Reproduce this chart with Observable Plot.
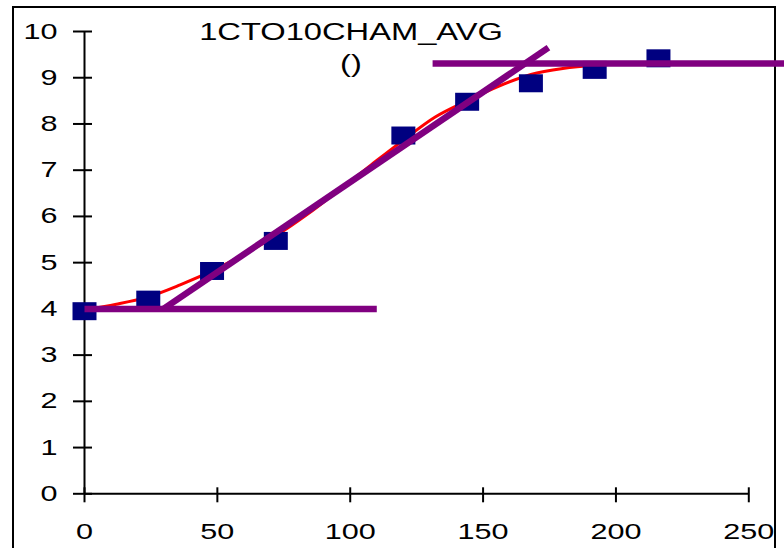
<!DOCTYPE html>
<html>
<head>
<meta charset="utf-8">
<script src="https://cdn.jsdelivr.net/npm/d3@7"></script>
<script src="https://cdn.jsdelivr.net/npm/@observablehq/plot@0.6"></script>
<style>
  html, body { margin: 0; padding: 0; background: white; overflow: hidden; }
  #wrap { position: relative; width: 784px; height: 548px; }
  #frame { position: absolute; left: 12px; top: 6px; width: 760px; height: 600px; border: 2px solid black; z-index: 0; }
  #chart { position: absolute; left: 0; top: 0; z-index: 1; }
  #title { position: absolute; left: 0; top: 15.8px; width: 702px; text-align: center; z-index: 2;
           font-family: "Liberation Sans", Arial, sans-serif; font-size: 23px; line-height: 32.5px;
           color: black; transform: scaleX(1.42); }
</style>
</head>
<body>
<div id="wrap">
  <div id="frame"></div>
  <div id="chart"></div>
  <div id="title">1CTO10CHAM_AVG<br>()</div>
</div>
<script>
// Measured points
const pointTimes  = [0, 24, 48, 72, 120, 144, 168, 192, 216];
const pointValues = [3.95, 4.2, 4.82, 5.47, 7.75, 8.48, 8.88, 9.17, 9.42];

// Fitted (red) curve
const fitTimes  = [0, 12, 24, 36, 48, 60, 72, 84, 96, 108, 120, 132, 144, 156, 168, 180, 192, 204, 216];
const fitValues = [3.98, 4.1, 4.26, 4.52, 4.82, 5.18, 5.58, 6.05, 6.58, 7.12, 7.65, 8.15, 8.5, 8.82, 9.07, 9.2, 9.27, 9.3, 9.31];

// Purple construction lines
const baseTimes = [0, 110],        baseValues = [4.0, 4.0];
const slopeTimes = [29.7, 174.6],  slopeValues = [4.0, 9.65];
const plateauTimes = [131, 265],   plateauValues = [9.31, 9.31];

// Tick labels
const xTicks = [0, 50, 100, 150, 200, 250];
const yTicks = [0, 1, 2, 3, 4, 5, 6, 7, 8, 9, 10];

const points = pointTimes.map((t, i) => ({t, v: pointValues[i]}));
const fit = fitTimes.map((t, i) => ({t, v: fitValues[i]}));
const segs = [
  ...baseTimes.map((t, i) => ({seg: "base", t, v: baseValues[i]})),
  ...slopeTimes.map((t, i) => ({seg: "slope", t, v: slopeValues[i]})),
  ...plateauTimes.map((t, i) => ({seg: "plateau", t, v: plateauValues[i]}))
];

const rectSymbol = { draw(ctx) { ctx.rect(-12, -9, 24, 18); ctx.closePath(); } };

const chart = Plot.plot({
  width: 784,
  height: 548,
  marginLeft: 84,
  marginRight: 35.7,
  marginTop: 31,
  marginBottom: 54.7,
  style: { fontFamily: "Liberation Sans, Arial, sans-serif", color: "black", background: "transparent" },
  x: { domain: [0, 250], ticks: xTicks },
  y: { domain: [0, 10], ticks: yTicks },
  marks: [
    Plot.axisY(yTicks, { tickSize: 19, dx: 8, fill: "none", stroke: "black", strokeWidth: 2, label: null }),
    Plot.axisY(yTicks, { tickSize: 0, tickPadding: 27, fontSize: 22, fill: "black", label: null }),
    Plot.axisX(xTicks, { tickSize: 15, dy: -6, fill: "none", stroke: "black", strokeWidth: 2, label: null }),
    Plot.axisX(xTicks, { tickSize: 0, tickPadding: 30, fontSize: 22, fill: "black", label: null }),
    Plot.ruleX([0], { y1: 0, y2: 10, stroke: "black", strokeWidth: 2 }),
    Plot.ruleY([0], { x1: 0, x2: 250, stroke: "black", strokeWidth: 2 }),
    Plot.line(fit, { x: "t", y: "v", stroke: "#ff0000", strokeWidth: 3, curve: "monotone-x" }),
    Plot.dot(points, { x: "t", y: "v", symbol: rectSymbol, fill: "#000080", stroke: "none" }),
    Plot.line(segs, { x: "t", y: "v", z: "seg", stroke: "#800080", strokeWidth: 6.5, strokeLinecap: "butt" })
  ]
});

// Stretch the text horizontally like the original rendering
chart.querySelectorAll("text").forEach(t => {
  const tr = t.getAttribute("transform");
  if (tr) t.setAttribute("transform", tr + " scale(1.39,1)");
  else {
    const x = t.getAttribute("x") || 0, y = t.getAttribute("y") || 0;
    t.removeAttribute("x"); t.removeAttribute("y");
    t.setAttribute("transform", `translate(${x},${y}) scale(1.39,1)`);
  }
});

document.getElementById("chart").appendChild(chart);
</script>
</body>
</html>
